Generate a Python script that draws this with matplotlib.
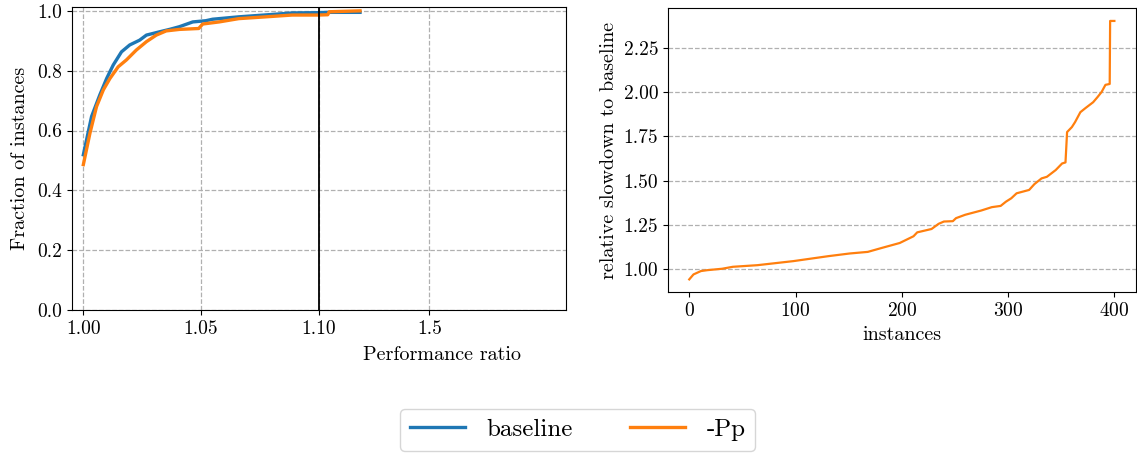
import numpy as np
import matplotlib
matplotlib.use("Agg")
import matplotlib.pyplot as plt

plt.rcParams["font.family"] = ["cmr10", "DejaVu Serif"]
plt.rcParams["mathtext.fontset"] = "cm"
plt.rcParams["axes.unicode_minus"] = False
plt.rcParams["axes.formatter.use_mathtext"] = True

# performance profile
ratio_base = [1.000, 1.0035, 1.007, 1.0099, 1.0127, 1.0162, 1.0197, 1.0239, 1.0268,
              1.0324, 1.0366, 1.0408, 1.0465, 1.052, 1.0549, 1.066, 1.082, 1.0887,
              1.100, 1.125, 1.235]
frac_base = [0.519, 0.647, 0.719, 0.774, 0.819, 0.863, 0.886, 0.902, 0.919,
             0.930, 0.938, 0.947, 0.963, 0.967, 0.972, 0.980, 0.989, 0.993,
             0.994, 0.995, 0.995]

ratio_pp = [1.000, 1.0028, 1.0056, 1.0085, 1.0113, 1.0148, 1.0183, 1.0225, 1.0268,
            1.031, 1.0352, 1.0408, 1.049, 1.0507, 1.0577, 1.066, 1.0775, 1.0887,
            1.100, 1.128, 1.133, 1.235]
frac_pp = [0.486, 0.591, 0.680, 0.736, 0.774, 0.813, 0.836, 0.869, 0.897,
           0.919, 0.933, 0.938, 0.941, 0.956, 0.963, 0.974, 0.980, 0.986,
           0.986, 0.987, 0.997, 1.000]

ratio_ticks = [1.00, 1.05, 1.10, 1.5]
ratio_labels = ["1.00", "1.05", "1.10", "1.5"]

# sorted relative slowdown of -Pp vs baseline
inst = [0, 4, 11, 17, 31, 41, 64, 98, 131, 151, 168, 181, 198, 211, 214.5, 228,
        234.6, 239.6, 248, 251, 259.6, 274.7, 284.7, 293, 298, 303, 308, 319.8,
        324.8, 331.5, 336.5, 344.8, 350.8, 354, 355.5, 360, 363, 368, 373, 380,
        384, 388, 391.6, 395.6, 396, 400]
slowdown = [0.944, 0.972, 0.991, 0.996, 1.004, 1.015, 1.024, 1.047, 1.075, 1.090,
            1.099, 1.121, 1.149, 1.187, 1.209, 1.228, 1.257, 1.270, 1.272, 1.289,
            1.308, 1.332, 1.351, 1.358, 1.382, 1.401, 1.429, 1.448, 1.481, 1.513,
            1.522, 1.560, 1.597, 1.603, 1.774, 1.802, 1.830, 1.886, 1.910, 1.942,
            1.970, 2.000, 2.040, 2.045, 2.400, 2.400]

BLUE = "#1f77b4"
ORANGE = "#ff7f0e"
K = 0.94 / np.log(1.5 / 1.1)


def fwd(x):
    # linear up to 1.1, logarithmic after
    x = np.asarray(x, dtype=float)
    lin = (x - 1.0) / 0.05
    lg = 2.0 + K * np.log(np.maximum(x, 1.1) / 1.1)
    return np.where(x <= 1.1, lin, lg)


def inv(u):
    u = np.asarray(u, dtype=float)
    lin = 1.0 + 0.05 * u
    lg = 1.1 * np.exp((np.maximum(u, 2.0) - 2.0) / K)
    return np.where(u <= 2.0, lin, lg)


fig = plt.figure(figsize=(11.37, 4.53), dpi=100)
ax1 = fig.add_axes([0.0631, 0.3157, 0.4347, 0.6678])
ax2 = fig.add_axes([0.5875, 0.3547, 0.4113, 0.6276])

ax1.set_xscale("function", functions=(fwd, inv))
l1, = ax1.plot(ratio_base, frac_base, color=BLUE, lw=2.4, label="baseline")
l2, = ax1.plot(ratio_pp, frac_pp, color=ORANGE, lw=2.4, label="-Pp")
ax1.axvline(1.10, color="black", lw=1.3, zorder=5)
ax1.set_xlim(0.99507, 2.2)
ax1.set_ylim(0, 1.0113)
ax1.set_xticks(ratio_ticks)
ax1.set_xticklabels(ratio_labels)
ax1.xaxis.set_minor_locator(matplotlib.ticker.NullLocator())
ax1.set_yticks([0, 0.2, 0.4, 0.6, 0.8, 1.0])
ax1.set_yticklabels(["0.0", "0.2", "0.4", "0.6", "0.8", "1.0"])
ax1.grid(True, ls="--", color="#b0b0b0", lw=0.9)
ax1.set_xlabel("Performance ratio", x=0.749, fontsize=14.5, labelpad=6)
ax1.set_ylabel("Fraction of instances", fontsize=14.5, labelpad=6)
ax1.tick_params(labelsize=14)

ax2.plot(inst, slowdown, color=ORANGE, lw=1.6)
ax2.set_xticks([0, 100, 200, 300, 400])
ax2.set_yticks([1.0, 1.25, 1.5, 1.75, 2.0, 2.25])
ax2.set_yticklabels(["1.00", "1.25", "1.50", "1.75", "2.00", "2.25"])
ax2.grid(True, axis="y", ls="--", color="#b0b0b0", lw=0.9)
ax2.set_xlabel("instances", fontsize=14.5, labelpad=4)
ax2.set_ylabel("relative slowdown to baseline", fontsize=14.5)
ax2.tick_params(labelsize=14)

fig.legend(handles=[l1, l2], loc="center", bbox_to_anchor=(0.508, 0.0508),
           ncol=2, fontsize=18, handlelength=2.2, handletextpad=0.85,
           columnspacing=2.3, borderpad=0.4, fancybox=True)

fig.savefig("out.png", dpi=100)
